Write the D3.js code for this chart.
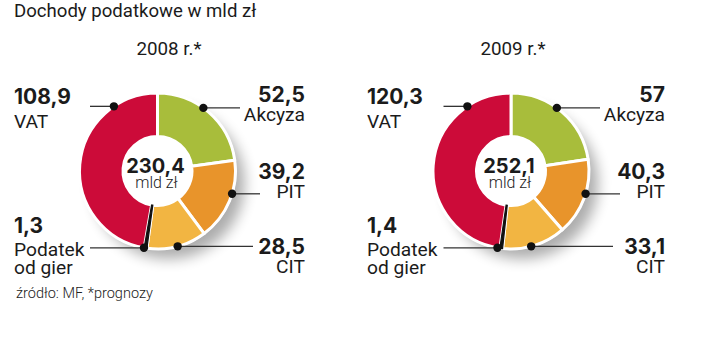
<!DOCTYPE html>
<html>
<head>
<meta charset="utf-8">
<script src="https://cdn.jsdelivr.net/npm/d3@7/dist/d3.min.js"></script>
<style>
  html, body { margin: 0; padding: 0; background: #fff; }
  svg { display: block; }
</style>
</head>
<body>
<svg id="chart" width="720" height="358"></svg>
<script>
// ---- data ----
const title = "Dochody podatkowe w mld zł";
const source = "źródło: MF, *prognozy";
const unit = "mld zł";
const years = ["2008 r.*", "2009 r.*"];
const categories = ["Akcyza", "PIT", "CIT", "Podatek od gier", "VAT"];
const labelLines = [["Akcyza"], ["PIT"], ["CIT"], ["Podatek", "od gier"], ["VAT"]];
const values2008 = [52.5, 39.2, 28.5, 1.3, 108.9];
const values2009 = [57, 40.3, 33.1, 1.4, 120.3];
const colors = ["#a8bd3b", "#e8942b", "#f2b542", "#111111", "#cc0b39"];

// ---- layout (not data) ----
const charts = [
  { values: values2008, year: years[0], cx: 157.5, cy: 171, titleX: 169, leftX: 14, rightX: 305 },
  { values: values2009, year: years[1], cx: 511, cy: 171, titleX: 513, leftX: 367, rightX: 665 }
];
// per category: side, dot angle (deg, clockwise from north), baseline offsets, leader end
const place = [
  { side: "right", angle: 36,  numDy: -69, lblDy: [-50],     lineEnd: -65 },
  { side: "right", angle: 107, numDy: 8,   lblDy: [27],      lineEnd: -45 },
  { side: "right", angle: 165, numDy: 83,  lblDy: [102],     lineEnd: -52 },
  { side: "left",  angle: 190, numDy: 62,  lblDy: [85, 103], lineStart: -67.5 },
  { side: "left",  angle: 326, numDy: -67, lblDy: [-43],     lineStart: -67.5 }
];

const outerR = 78, innerR = 34.5, dotR = 78;
const numFont = "Inter, 'DejaVu Sans', sans-serif";
const txtFont = "Roboto, 'Liberation Sans', sans-serif";
const ink = "#1b1b1b";

const pl = d3.formatLocale({ decimal: ",", thousands: " ", grouping: [3], currency: ["", " zł"] });
const fmt = pl.format("~f");

const svg = d3.select("#chart");
const defs = svg.append("defs");
defs.append("filter").attr("id", "shadow")
  .attr("x", "-50%").attr("y", "-50%").attr("width", "200%").attr("height", "200%")
  .append("feGaussianBlur").attr("stdDeviation", 7);

svg.append("text")
  .attr("x", 14).attr("y", 17)
  .attr("font-family", txtFont).attr("font-size", 18.6).attr("fill", ink)
  .text(title);

svg.append("text")
  .attr("x", 16).attr("y", 298)
  .attr("font-family", txtFont).attr("font-weight", 300).attr("font-size", 14.5).attr("fill", "#222")
  .text(source);

const pie = d3.pie().sort(null).value(d => d);
const arc = d3.arc().innerRadius(innerR).outerRadius(outerR);

charts.forEach(ch => {
  const g = svg.append("g");

  g.append("text")
    .attr("x", ch.titleX).attr("y", 55).attr("text-anchor", "middle")
    .attr("font-family", txtFont).attr("font-size", 18.8).attr("fill", ink)
    .text(ch.year);

  const donut = g.append("g").attr("transform", `translate(${ch.cx},${ch.cy})`);

  // soft shadow
  donut.append("circle")
    .attr("cx", 11).attr("cy", 12).attr("r", outerR - 2)
    .attr("fill", "#000").attr("opacity", 0.32)
    .attr("filter", "url(#shadow)");
  donut.append("circle").attr("r", outerR + 1).attr("fill", "#fff");

  const arcs = pie(ch.values);
  donut.selectAll("path.slice")
    .data(arcs)
    .join("path")
    .attr("class", "slice")
    .attr("d", arc)
    .attr("fill", (d, i) => colors[i])
    .attr("stroke", "#fff")
    .attr("stroke-width", 3)
    .attr("stroke-linejoin", "round");

  // thin dark slice drawn on top so it stays visible
  donut.selectAll("path.thin")
    .data(arcs.filter(d => (d.endAngle - d.startAngle) < 0.1))
    .join("path")
    .attr("class", "thin")
    .attr("d", arc)
    .attr("fill", colors[3])
    .attr("stroke", colors[3])
    .attr("stroke-width", 1.2);

  // centre total
  const total = d3.sum(ch.values);
  donut.append("text")
    .attr("x", -2).attr("y", 2).attr("text-anchor", "middle")
    .attr("font-family", numFont).attr("font-weight", 700).attr("font-size", 20)
    .attr("fill", ink)
    .text(fmt(Math.round(total * 10) / 10));
  donut.append("text")
    .attr("x", -1).attr("y", 17).attr("text-anchor", "middle")
    .attr("font-family", txtFont).attr("font-weight", 300).attr("font-size", 16)
    .attr("fill", ink)
    .text(unit);

  // labels and leaders
  categories.forEach((c, i) => {
    const p = place[i];
    const a = p.angle * Math.PI / 180;
    const dx = ch.cx + dotR * Math.sin(a);
    const dy = ch.cy - dotR * Math.cos(a);
    const left = p.side === "left";
    const x0 = left ? ch.cx + p.lineStart : dx;
    const x1 = left ? dx : ch.rightX + p.lineEnd;
    g.append("line")
      .attr("x1", x0).attr("x2", x1).attr("y1", dy).attr("y2", dy)
      .attr("stroke", "#333").attr("stroke-width", 1.3);
    g.append("circle").attr("cx", dx).attr("cy", dy).attr("r", 4.2).attr("fill", "#111");

    const tx = left ? ch.leftX : ch.rightX;
    const anchor = left ? "start" : "end";
    g.append("text")
      .attr("x", tx).attr("y", ch.cy + p.numDy).attr("text-anchor", anchor)
      .attr("font-family", numFont).attr("font-weight", 700).attr("font-size", 21)
      .attr("fill", ink)
      .text(fmt(ch.values[i]));
    labelLines[i].forEach((ln, k) => {
      g.append("text")
        .attr("x", tx).attr("y", ch.cy + p.lblDy[k]).attr("text-anchor", anchor)
        .attr("font-family", txtFont).attr("font-size", 19.2)
        .attr("fill", ink)
        .text(ln);
    });
  });
});
</script>
</body>
</html>
